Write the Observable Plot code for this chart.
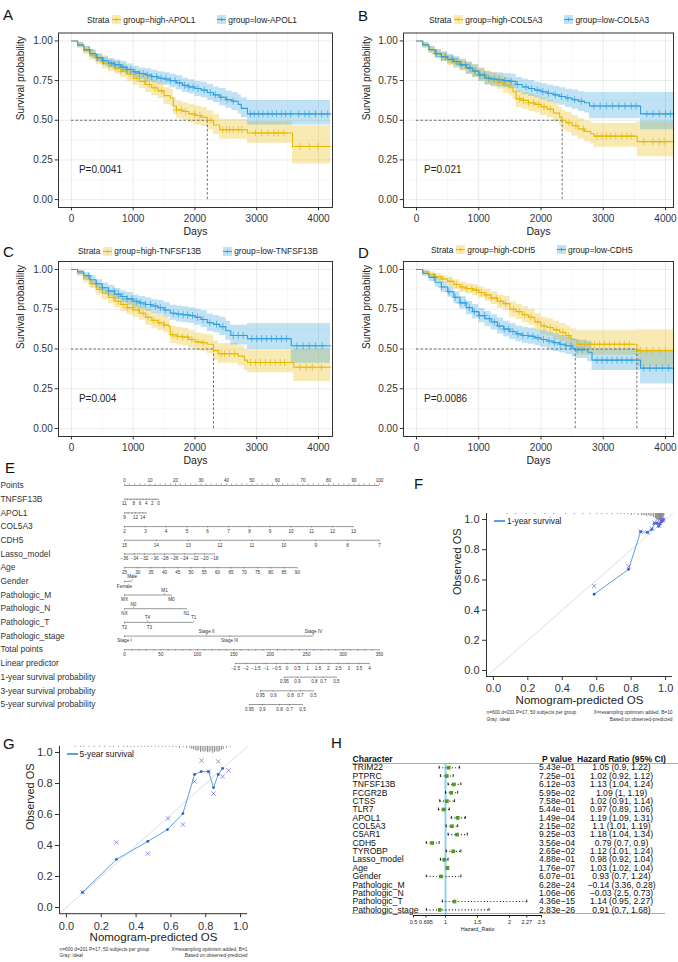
<!DOCTYPE html>
<html><head><meta charset="utf-8">
<script src="https://cdn.jsdelivr.net/npm/d3@7"></script>
<script src="https://cdn.jsdelivr.net/npm/@observablehq/plot@0.6"></script>
<style>
body{margin:0;background:#fff;}
#root{position:relative;width:678px;height:962px;overflow:hidden;background:#fff;font-family:"Liberation Sans",Arial,Helvetica,sans-serif;color:#222;}
</style></head>
<body><div id="root"></div>
<script>
// ---------------- DATA ----------------
const groupColors = ["#E7B800", "#2E9FDF"];
const kmTimeTicks = [0, 1000, 2000, 3000, 4000];
const kmTimeMinor = [500, 1500, 2500, 3500];
const kmSurvTicks = [0, 0.25, 0.5, 0.75, 1];
const kmSurvMinor = [0.125, 0.375, 0.625, 0.875];
const kmSurvDomain = [-0.05, 1.05];
const kmDomainAC = [-210, 4227];
const kmDomainBD = [-209, 4129];
const pvalAt = [120, 0.19];

// [days, survival, lower, upper]
const aHigh = [[0,1,1,1],[100,0.97,0.95,0.99],[200,0.94,0.915,0.965],[300,0.91,0.88,0.94],[400,0.885,0.85,0.915],[500,0.86,0.825,0.895],[600,0.845,0.805,0.88],[700,0.83,0.79,0.87],[800,0.81,0.77,0.85],[900,0.79,0.745,0.83],[1000,0.765,0.72,0.81],[1100,0.745,0.70,0.79],[1200,0.725,0.675,0.77],[1300,0.705,0.655,0.755],[1400,0.685,0.635,0.735],[1500,0.655,0.60,0.705],[1600,0.64,0.585,0.695],[1650,0.59,0.535,0.645],[1700,0.565,0.51,0.62],[1800,0.555,0.50,0.61],[1900,0.54,0.485,0.60],[2000,0.53,0.47,0.59],[2100,0.52,0.46,0.58],[2200,0.50,0.44,0.56],[2300,0.47,0.41,0.535],[2400,0.44,0.38,0.505],[2850,0.42,0.355,0.49],[3580,0.335,0.225,0.465],[4195,0.335,0.225,0.465]];
const aLow = [[0,1,1,1],[100,0.975,0.96,0.99],[200,0.945,0.925,0.965],[300,0.92,0.895,0.945],[400,0.895,0.865,0.92],[500,0.875,0.845,0.905],[600,0.86,0.83,0.89],[700,0.85,0.815,0.88],[800,0.835,0.80,0.87],[900,0.82,0.785,0.855],[1000,0.805,0.77,0.84],[1100,0.795,0.755,0.83],[1200,0.785,0.745,0.825],[1300,0.775,0.735,0.815],[1400,0.765,0.725,0.805],[1500,0.76,0.72,0.80],[1600,0.75,0.705,0.79],[1700,0.735,0.69,0.78],[1800,0.72,0.675,0.765],[1900,0.71,0.665,0.755],[2000,0.70,0.65,0.745],[2100,0.69,0.64,0.74],[2200,0.675,0.625,0.725],[2300,0.66,0.61,0.71],[2400,0.645,0.59,0.70],[2500,0.63,0.575,0.685],[2600,0.62,0.56,0.675],[2700,0.60,0.54,0.66],[2750,0.575,0.515,0.64],[2850,0.54,0.47,0.625],[4195,0.54,0.47,0.625]];
const bHigh = [[0,1,1,1],[100,0.975,0.955,0.99],[200,0.945,0.92,0.965],[300,0.92,0.89,0.945],[400,0.90,0.87,0.93],[500,0.88,0.845,0.91],[600,0.86,0.825,0.895],[700,0.845,0.81,0.88],[800,0.83,0.79,0.865],[900,0.81,0.77,0.85],[1000,0.79,0.745,0.83],[1100,0.77,0.725,0.81],[1200,0.755,0.71,0.80],[1300,0.74,0.695,0.785],[1400,0.72,0.67,0.77],[1500,0.705,0.655,0.755],[1550,0.68,0.63,0.73],[1600,0.635,0.58,0.685],[1700,0.625,0.57,0.675],[1800,0.61,0.555,0.665],[1900,0.60,0.545,0.655],[2000,0.585,0.53,0.64],[2100,0.57,0.515,0.625],[2200,0.545,0.49,0.605],[2300,0.52,0.46,0.58],[2340,0.50,0.44,0.56],[2400,0.485,0.425,0.55],[2500,0.465,0.40,0.53],[2600,0.445,0.38,0.51],[2700,0.43,0.365,0.495],[2800,0.415,0.35,0.485],[2850,0.40,0.33,0.48],[3545,0.365,0.27,0.49],[4134,0.365,0.27,0.49]];
const bLow = [[0,1,1,1],[100,0.975,0.955,0.99],[200,0.945,0.925,0.965],[300,0.92,0.895,0.945],[400,0.90,0.87,0.93],[500,0.885,0.855,0.915],[600,0.87,0.835,0.90],[700,0.85,0.815,0.885],[800,0.83,0.79,0.865],[900,0.81,0.77,0.85],[1000,0.785,0.745,0.825],[1100,0.765,0.72,0.805],[1200,0.76,0.715,0.80],[1300,0.755,0.71,0.80],[1400,0.75,0.705,0.795],[1500,0.745,0.70,0.79],[1600,0.725,0.675,0.77],[1700,0.71,0.66,0.76],[1800,0.70,0.65,0.75],[1900,0.69,0.64,0.74],[2000,0.68,0.63,0.73],[2100,0.67,0.615,0.72],[2200,0.66,0.605,0.715],[2300,0.65,0.595,0.705],[2400,0.64,0.58,0.695],[2500,0.63,0.57,0.69],[2600,0.62,0.555,0.68],[2700,0.61,0.545,0.675],[2780,0.59,0.51,0.675],[3600,0.54,0.44,0.675],[4134,0.54,0.44,0.675]];
const cHigh = [[0,1,1,1],[100,0.975,0.955,0.99],[200,0.94,0.915,0.965],[300,0.91,0.88,0.935],[400,0.875,0.84,0.905],[500,0.85,0.81,0.885],[600,0.825,0.785,0.86],[700,0.80,0.76,0.84],[800,0.78,0.735,0.82],[900,0.76,0.715,0.805],[1000,0.745,0.70,0.79],[1100,0.725,0.68,0.77],[1200,0.70,0.65,0.75],[1300,0.68,0.63,0.73],[1400,0.665,0.615,0.715],[1500,0.65,0.60,0.70],[1580,0.64,0.585,0.69],[1600,0.59,0.535,0.645],[1700,0.58,0.525,0.635],[1800,0.575,0.52,0.63],[1900,0.56,0.505,0.615],[2000,0.545,0.49,0.60],[2100,0.54,0.485,0.595],[2200,0.53,0.47,0.59],[2300,0.49,0.43,0.55],[2380,0.47,0.41,0.535],[2700,0.455,0.395,0.52],[2800,0.43,0.365,0.495],[2850,0.415,0.35,0.49],[3600,0.385,0.295,0.50],[4195,0.385,0.295,0.50]];
const cLow = [[0,1,1,1],[100,0.985,0.97,0.995],[200,0.96,0.94,0.98],[300,0.935,0.91,0.96],[400,0.91,0.88,0.935],[500,0.885,0.85,0.915],[600,0.865,0.83,0.90],[700,0.845,0.81,0.88],[800,0.83,0.79,0.865],[900,0.815,0.775,0.855],[1000,0.80,0.76,0.84],[1100,0.79,0.75,0.83],[1200,0.78,0.735,0.82],[1300,0.77,0.725,0.81],[1400,0.76,0.715,0.805],[1500,0.745,0.70,0.79],[1600,0.725,0.68,0.775],[1700,0.72,0.67,0.77],[1800,0.715,0.665,0.765],[1900,0.71,0.66,0.76],[2000,0.70,0.65,0.75],[2100,0.685,0.635,0.74],[2200,0.665,0.61,0.72],[2300,0.655,0.60,0.71],[2400,0.64,0.585,0.70],[2500,0.615,0.555,0.675],[2580,0.585,0.525,0.65],[2850,0.565,0.495,0.66],[3560,0.52,0.41,0.66],[4195,0.52,0.41,0.66]];
const dHigh = [[0,1,1,1],[100,0.985,0.97,0.995],[200,0.97,0.95,0.985],[300,0.955,0.935,0.975],[400,0.94,0.915,0.96],[500,0.925,0.895,0.95],[600,0.905,0.875,0.935],[700,0.89,0.855,0.92],[800,0.88,0.845,0.91],[900,0.87,0.835,0.905],[1000,0.855,0.82,0.89],[1100,0.84,0.80,0.875],[1200,0.82,0.78,0.86],[1300,0.80,0.755,0.84],[1400,0.785,0.74,0.83],[1500,0.75,0.70,0.795],[1600,0.735,0.685,0.78],[1700,0.715,0.665,0.765],[1800,0.70,0.65,0.75],[1900,0.67,0.615,0.72],[2000,0.645,0.59,0.70],[2100,0.635,0.58,0.69],[2200,0.62,0.56,0.675],[2300,0.605,0.545,0.66],[2400,0.585,0.525,0.645],[2480,0.56,0.495,0.625],[2580,0.53,0.46,0.615],[3540,0.49,0.39,0.62],[4134,0.49,0.39,0.62]];
const dLow = [[0,1,1,1],[100,0.975,0.955,0.99],[200,0.95,0.925,0.97],[300,0.92,0.89,0.945],[400,0.89,0.855,0.92],[500,0.86,0.825,0.895],[600,0.825,0.785,0.86],[700,0.79,0.75,0.83],[800,0.76,0.715,0.80],[900,0.735,0.69,0.78],[1000,0.71,0.665,0.755],[1100,0.69,0.64,0.735],[1200,0.67,0.62,0.715],[1300,0.645,0.595,0.695],[1400,0.625,0.575,0.675],[1500,0.61,0.56,0.66],[1600,0.595,0.545,0.645],[1700,0.585,0.535,0.635],[1800,0.58,0.53,0.63],[1900,0.57,0.52,0.62],[2000,0.56,0.51,0.615],[2100,0.55,0.495,0.605],[2200,0.54,0.485,0.595],[2300,0.53,0.475,0.585],[2400,0.52,0.465,0.575],[2500,0.505,0.45,0.565],[2550,0.495,0.44,0.555],[2750,0.48,0.42,0.545],[2820,0.43,0.365,0.50],[3600,0.38,0.28,0.49],[4134,0.38,0.28,0.49]];

const aHighCensor = [350,480,610,720,800,880,950,1060,1180,1260,1350,1460,1700,1780,1850,1990,2080,2260,2450,2510,2560,2620,2700,2760,2980,3080,3180,3280,3350,3440,3700,3850,3990];
const aLowCensor = [290,420,520,640,700,770,830,900,960,1030,1100,1160,1230,1300,1380,1450,1530,1600,1680,1750,1830,1900,1970,2050,2150,2250,2330,2420,2520,2620,2900,2960,3030,3100,3180,3250,3320,3400,3470,3550,3680,3780,3850,3950,4050,4150];
const bHighCensor = [300,450,560,690,780,850,930,1010,1120,1200,1300,1380,1480,1650,1720,1800,1880,1960,2050,2150,2450,2560,2680,2900,2980,3050,3120,3200,3300,3380,3450,3650,3800,3900,3980];
const bLowCensor = [320,400,470,580,650,720,790,860,940,1020,1090,1160,1250,1330,1420,1520,1620,1760,1850,1940,2030,2120,2230,2330,2430,2540,2650,2850,2950,3050,3150,3250,3350,3450,3530,3700,3800,3900,4000,4080];
const cHighCensor = [330,460,590,680,760,840,910,990,1080,1160,1240,1330,1420,1500,1640,1720,1800,1880,1950,2050,2130,2420,2480,2560,2640,2900,2980,3060,3140,3220,3300,3380,3450,3700,3800,3900,4050];
const cLowCensor = [280,400,500,600,690,760,830,900,980,1050,1120,1200,1280,1360,1440,1520,1650,1730,1810,1880,1960,2040,2130,2240,2350,2450,2620,2700,2780,2920,3000,3080,3160,3240,3320,3400,3480,3650,3750,3850,3950,4060];
const dHighCensor = [300,420,540,640,730,810,890,960,1040,1120,1200,1280,1350,1430,1560,1650,1740,1840,1950,2050,2150,2250,2350,2440,2620,2700,2780,2860,2940,3020,3100,3180,3260,3340,3420,3600,3700,3800,3900,4000];
const dLowCensor = [280,400,520,620,700,780,850,930,1010,1090,1170,1250,1330,1410,1480,1550,1630,1710,1790,1870,1950,2040,2130,2220,2310,2400,2480,2580,2660,2900,2980,3060,3140,3220,3300,3380,3460,3650,3750,3850,3950,4050];

const aMedian = [2200], bMedian = [2340], cMedian = [2300], dMedian = [2550, 3540];
const aStrata = ["group=high-APOL1", "group=low-APOL1"];
const bStrata = ["group=high-COL5A3", "group=low-COL5A3"];
const cStrata = ["group=high-TNFSF13B", "group=low-TNFSF13B"];
const dStrata = ["group=high-CDH5", "group=low-CDH5"];
const kmPvals = ["P=0.0041", "P=0.021", "P=0.004", "P=0.0086"];

// Nomogram: [label, position on the 0–100 Points scale, side]
const nomoRowNames = ["Points","TNFSF13B","APOL1","COL5A3","CDH5","Lasso_model","Age","Gender","Pathologic_M","Pathologic_N","Pathologic_T","Pathologic_stage","Total points","Linear predictor","1-year survival probability","3-year survival probability","5-year survival probability"];
const pointsTicks = [0,10,20,30,40,50,60,70,80,90,100];
const tnfsf13bAxis = [["11",0],["",1.2],["",2.4],["8",3.6],["",4.8],["6",6.1],["",7.3],["4",8.5],["",9.7],["2",10.9],["",12.1],["0",13.3]];
const apol1Axis = [["9",0],["",1.4],["",2.9],["12",4.3],["",5.8],["14",7.2],["",8.6]];
const col5a3Axis = [["2",0],["3",8.2],["4",16.3],["5",24.5],["6",32.6],["7",40.8],["8",49.0],["9",57.1],["10",65.3],["11",73.4],["12",81.6],["13",89.8]];
const cdh5Axis = [["15",0],["14",12.5],["13",25],["12",37.5],["11",50],["10",62.5],["9",75],["8",87.5],["7",100]];
const lassoAxis = [["−36",0],["−34",3.9],["−32",7.8],["−30",11.8],["−28",15.7],["−26",19.6],["−24",23.5],["−22",27.5],["−20",31.4],["−18",35.3]];
const ageAxis = [["25",0],["30",5.2],["35",10.4],["40",15.7],["45",20.9],["50",26.1],["55",31.3],["60",36.5],["65",41.8],["70",47.0],["75",52.2],["80",57.4],["85",62.6],["90",67.8]];
const genderAxis = [["Female",0,"b"],["Male",3.0,"a"]];
const pmAxis = [["MX",0,"b"],["M1",15.7,"a"],["M0",18.4,"b"]];
const pnAxis = [["NX",0,"b"],["N0",3.5,"a"],["N1",24.3,"b"]];
const ptAxis = [["T2",0,"b"],["T4",9.0,"a"],["T3",9.8,"b"],["T1",27.1,"a"]];
const stageAxis = [["Stage I",0,"b"],["Stage II",32.2,"a"],["Stage III",41.2,"b"],["Stage IV",74.1,"a"]];
const totalPtsAxis = [0,50,100,150,200,250,300,350];
const lpAxis = [["−2.5",43.5],["−2",47.6],["−1.5",51.6],["−1",55.6],["−0.5",59.7],["0",63.7],["0.5",67.8],["1",71.8],["1.5",75.9],["2",79.9],["2.5",83.9],["3",88.0],["3.5",92.0],["4",96.1]];
const surv1Axis = [["0.95",62.7],["0.9",67.8],["0.8",74.5],["0.7",78.0],["0.5",83.1]];
const surv3Axis = [["0.95",53.3],["0.9",58.4],["0.8",65.1],["0.7",69.0],["0.5",74.1]];
const surv5Axis = [["0.95",49.0],["0.9",54.1],["0.8",60.8],["0.7",64.7],["0.5",69.8]];

// Calibration: [predicted, observed]
const calDomain = [-0.04, 1.04];
const calTicks = [0, 0.2, 0.4, 0.6, 0.8, 1.0];
const calIdeal = [-0.04, 1.04];
const f1Dots = [[0.585,0.505],[0.785,0.67],[0.855,0.92],[0.895,0.915],[0.92,0.935],[0.935,0.975],[0.95,0.975],[0.96,0.955],[0.967,0.97],[0.974,0.985],[0.98,0.99],[0.987,1.0]];
const f1Cross = [[0.585,0.56],[0.785,0.69],[0.855,0.92],[0.895,0.915],[0.92,0.94],[0.935,0.98],[0.95,0.98],[0.96,0.96],[0.967,0.975],[0.974,0.99],[0.98,0.995],[0.987,1.0]];
const f1Rug = [[0.08,1],[0.13,1],[0.19,1],[0.24,1],[0.3,1],[0.35,1],[0.42,1],[0.47,1],[0.52,1],[0.56,1],[0.6,1],[0.63,1],[0.66,1],[0.69,1],[0.72,1],[0.74,1],[0.76,1],[0.78,1],[0.8,2],[0.82,1],[0.84,2],[0.86,2],[0.87,2],[0.88,2],[0.89,3],[0.9,2],[0.91,3],[0.92,3],[0.93,4],[0.94,5],[0.945,6],[0.95,7],[0.955,6],[0.96,8],[0.965,7],[0.97,8],[0.975,7],[0.98,6],[0.985,5],[0.99,3]];
const g5Dots = [[0.092,0.097],[0.287,0.31],[0.467,0.426],[0.58,0.503],[0.669,0.606],[0.736,0.858],[0.774,0.877],[0.816,0.877],[0.845,0.774],[0.872,0.858],[0.897,0.897]];
const g5Cross = [[0.092,0.1],[0.287,0.42],[0.467,0.348],[0.584,0.574],[0.669,0.535],[0.736,0.813],[0.776,0.948],[0.816,0.877],[0.845,0.735],[0.872,0.942],[0.897,0.845],[0.931,0.884]];
const g5Rug = [[0.05,1],[0.08,1],[0.1,1],[0.13,1],[0.16,1],[0.19,1],[0.22,1],[0.25,1],[0.27,1],[0.3,1],[0.33,1],[0.35,1],[0.37,1],[0.39,1],[0.41,1],[0.43,1],[0.45,1],[0.47,1],[0.49,1],[0.51,1],[0.53,1],[0.55,1],[0.57,1],[0.59,1],[0.61,1],[0.63,1],[0.65,2],[0.67,1],[0.69,2],[0.71,2],[0.72,3],[0.73,3],[0.74,4],[0.75,5],[0.76,4],[0.77,6],[0.78,5],[0.79,6],[0.8,5],[0.81,6],[0.82,6],[0.83,5],[0.84,7],[0.85,6],[0.86,5],[0.87,6],[0.88,5],[0.89,4],[0.9,3],[0.92,2],[0.94,1]];
const fCaption = ["n=600 d=201 P=17, 50 subjects per group", "X=resampling optimism added, B=10", "Gray: ideal", "Based on observed-predicted"];
const gCaption = ["n=600 d=201 P=17, 50 subjects per group", "X=resampling optimism added, B=1", "Gray: ideal", "Based on observed-predicted"];

// Forest table
const hHeaders = ["Character", "P value", "Hazard Ratio (95% CI)"];
const hChar = ["TRIM22","PTPRC","TNFSF13B","FCGR2B","CTSS","TLR7","APOL1","COL5A3","C5AR1","CDH5","TYROBP","Lasso_model","Age","Gender","Pathologic_M","Pathologic_N","Pathologic_T","Pathologic_stage"];
const hPval = ["5.43e−01","7.25e−01","6.12e−03","5.95e−02","7.58e−01","5.44e−01","1.49e−04","2.15e−02","9.25e−03","3.56e−04","2.65e−02","4.88e−01","1.76e−07","6.07e−01","6.28e−24","1.06e−06","4.36e−15","2.83e−26"];
const hHR = [1.05,1.02,1.13,1.09,1.02,0.97,1.19,1.1,1.18,0.79,1.12,0.98,1.03,0.93,-0.14,-0.03,1.14,0.91];
const hLo = [0.9,0.92,1.04,1,0.91,0.89,1.09,1.01,1.04,0.7,1.01,0.92,1.02,0.7,3.36,2.5,0.95,0.7];
const hHi = [1.22,1.12,1.24,1.19,1.14,1.06,1.31,1.19,1.34,0.9,1.24,1.04,1.04,1.24,0.28,0.73,2.27,1.68];
const hrTicks = [0.5, 0.695, 1, 1.5, 2, 2.27, 2.5];
const hrDomain = [0.5, 2.5];
const hXLabel = "Hazard_Ratio";

// ---------------- RENDER ----------------
const root = document.getElementById("root");
const FONT = "'Liberation Sans', Arial, Helvetica, sans-serif";
const plotStyle = {fontFamily: FONT, background: "transparent", overflow: "visible"};
function put(el, left, top) { el.style.position = "absolute"; el.style.left = left + "px"; el.style.top = top + "px"; root.appendChild(el); return el; }
function div(html, css) { const d = document.createElement("div"); d.innerHTML = html; d.style.cssText = "position:absolute;" + css; root.appendChild(d); return d; }
function survAt(rows, t) { let v = rows[0][1]; for (const r of rows) { if (r[0] <= t) v = r[1]; else break; } return v; }

function kmPanel(p) {
  const marks = [
    Plot.ruleX(kmTimeMinor, {stroke: "#f1f1f1", strokeWidth: 0.6}),
    Plot.ruleY(kmSurvMinor, {stroke: "#f1f1f1", strokeWidth: 0.6}),
    Plot.ruleX(kmTimeTicks, {stroke: "#e3e3e3", strokeWidth: 0.7}),
    Plot.ruleY(kmSurvTicks, {stroke: "#e3e3e3", strokeWidth: 0.7})
  ];
  p.curves.forEach((c, i) => marks.push(Plot.areaY(c, {x: d => d[0], y1: d => d[2], y2: d => d[3], curve: "step-after", fill: groupColors[i], fillOpacity: 0.3})));
  marks.push(Plot.ruleY([0.5], {x1: 0, x2: d3.max(p.medians), stroke: "#333", strokeWidth: 0.7, strokeDasharray: "2.5,2"}));
  marks.push(Plot.ruleX(p.medians, {y1: 0, y2: 0.5, stroke: "#333", strokeWidth: 0.7, strokeDasharray: "2.5,2"}));
  p.curves.forEach((c, i) => {
    marks.push(Plot.line(c, {x: d => d[0], y: d => d[1], curve: "step-after", stroke: groupColors[i], strokeWidth: 1.1}));
    marks.push(Plot.dot(p.censor[i], {x: t => t, y: t => survAt(c, t), symbol: "plus", r: 2.4, stroke: groupColors[i], strokeWidth: 0.7}));
  });
  marks.push(Plot.text([p.pval], {x: pvalAt[0], y: pvalAt[1], text: d => d, textAnchor: "start", fontSize: 10, fill: "#222"}));
  marks.push(Plot.frame({stroke: "#333", strokeWidth: 1}));
  marks.push(Plot.axisX(kmTimeTicks, {tickSize: 3.3, tickPadding: 4.5, fontSize: 10, fill: "#333", stroke: "#333", tickFormat: d => String(d), label: null}));
  marks.push(Plot.axisY(kmSurvTicks, {tickSize: 3.3, tickPadding: 2.5, fontSize: 10, fill: "#333", stroke: "#333", tickFormat: d3.format(".2f"), label: null}));
  marks.push(Plot.text(["Days"], {frameAnchor: "bottom", dy: 27.5, fontSize: 10.5, fill: "#222", text: d => d}));
  marks.push(Plot.text(["Survival probability"], {frameAnchor: "left", dx: p.titleDx, rotate: -90, fontSize: 10, fill: "#222", text: d => d}));
  const svg = Plot.plot({width: p.width, height: p.height, marginLeft: p.ml, marginRight: p.mr, marginTop: p.mt, marginBottom: p.mb,
    x: {domain: p.xDomain}, y: {domain: kmSurvDomain}, style: plotStyle, marks});
  put(svg, p.left, p.top);
}

function swatch(color) {
  return `<svg width="9" height="9" style="display:block"><rect width="9" height="9" fill="${color}" fill-opacity="0.3"/><line x1="0" x2="9" y1="4.5" y2="4.5" stroke="${color}" stroke-width="1.1"/><line x1="4.5" x2="4.5" y1="2.7" y2="6.3" stroke="${color}" stroke-width="0.8"/></svg>`;
}
function kmLegend(left, cy, labels) {
  const html = `<span>Strata</span>` + labels.map((l, i) => `<span style="display:flex;align-items:center;gap:2px;margin-left:${i ? 22 : 3}px">${swatch(groupColors[i])}<span>${l}</span></span>`).join("");
  div(html, `left:${left}px;top:${cy - 6}px;height:12px;display:flex;align-items:center;font-size:8.4px;color:#222;white-space:nowrap;`);
}

kmPanel({curves: [aHigh, aLow], censor: [aHighCensor, aLowCensor], medians: aMedian, pval: kmPvals[0], xDomain: kmDomainAC, left: 0, top: 28, width: 340, height: 217, ml: 58, mr: 8, mt: 4.5, mb: 38, titleDx: -38});
kmPanel({curves: [bHigh, bLow], censor: [bHighCensor, bLowCensor], medians: bMedian, pval: kmPvals[1], xDomain: kmDomainBD, left: 340, top: 28, width: 338, height: 217, ml: 63, mr: 5, mt: 4.5, mb: 38, titleDx: -37});
kmPanel({curves: [cHigh, cLow], censor: [cHighCensor, cLowCensor], medians: cMedian, pval: kmPvals[2], xDomain: kmDomainAC, left: 0, top: 257, width: 340, height: 217, ml: 58, mr: 8, mt: 4, mb: 38, titleDx: -38});
kmPanel({curves: [dHigh, dLow], censor: [dHighCensor, dLowCensor], medians: dMedian, pval: kmPvals[3], xDomain: kmDomainBD, left: 340, top: 257, width: 338, height: 217, ml: 63, mr: 5, mt: 4, mb: 38, titleDx: -37});
kmLegend(87, 19.5, aStrata);
kmLegend(429, 19.5, bStrata);
kmLegend(78, 251, cStrata);
kmLegend(431, 249.5, dStrata);

// ---- Nomogram (E)
const nomoTicks = [];
const addRow = (row, arr, defSide) => arr.forEach(([label, pos, side]) => nomoTicks.push({row, label, pos, side: side || defSide}));
pointsTicks.forEach(v => nomoTicks.push({row: 0, label: String(v), pos: v, side: "a"}));
d3.range(0, 101, 2).filter(v => v % 10).forEach(v => nomoTicks.push({row: 0, label: "", pos: v, side: "a"}));
addRow(1, tnfsf13bAxis, "b"); addRow(2, apol1Axis, "b"); addRow(3, col5a3Axis, "b"); addRow(4, cdh5Axis, "b");
addRow(5, lassoAxis, "b"); addRow(6, ageAxis, "b"); addRow(7, genderAxis, "b"); addRow(8, pmAxis, "b");
addRow(9, pnAxis, "b"); addRow(10, ptAxis, "b"); addRow(11, stageAxis, "b");
totalPtsAxis.forEach(v => nomoTicks.push({row: 12, label: String(v), pos: v * 100 / 350, side: "b"}));
d3.range(0, 351, 10).filter(v => v % 50).forEach(v => nomoTicks.push({row: 12, label: "", pos: v * 100 / 350, side: "b"}));
addRow(13, lpAxis, "b"); addRow(14, surv1Axis, "b"); addRow(15, surv3Axis, "b"); addRow(16, surv5Axis, "b");
const nomoLines = d3.rollups(nomoTicks, v => [d3.min(v, d => d.pos), d3.max(v, d => d.pos)], d => d.row).map(([row, [x1, x2]]) => ({row, x1, x2}));

const nomo = Plot.plot({width: 400, height: 250, marginLeft: 124, marginRight: 21, marginTop: 15, marginBottom: 16,
  x: {domain: [0, 100], axis: null}, y: {domain: [0, 16], reverse: true, axis: null}, style: plotStyle,
  marks: [
    Plot.ruleY(nomoLines, {y: "row", x1: "x1", x2: "x2", stroke: "#555", strokeWidth: 0.6}),
    Plot.ruleX(nomoTicks, {x: "pos", y1: "row", y2: d => d.row + (d.side === "a" ? -0.11 : 0.11), stroke: "#555", strokeWidth: 0.5}),
    Plot.text(nomoTicks.filter(d => d.label && d.side === "a"), {x: "pos", y: "row", text: "label", dy: -4.6, fontSize: 4.6, fill: "#333"}),
    Plot.text(nomoTicks.filter(d => d.label && d.side === "b"), {x: "pos", y: "row", text: "label", dy: 4.8, fontSize: 4.6, fill: "#333"}),
    Plot.text(nomoRowNames, {y: (d, i) => i, text: d => d, frameAnchor: "left", dx: -124, textAnchor: "start", fontSize: 8.4, fill: "#333"})
  ]});
put(nomo, 0, 470);

// ---- Calibration (F, G)
function calPanel(p) {
  const xy = {x: d => d[0], y: d => d[1]};
  const capStyle = {fontSize: 4.8, fill: "#333", text: d => d};
  const marks = [
    Plot.line(calIdeal, {x: d => d, y: d => d, stroke: "#dddddd", strokeWidth: 1}),
    Plot.ruleX(p.rug, {x: d => d[0], y1: calDomain[1], y2: d => calDomain[1] - d[1] * 0.0068, stroke: "#444", strokeWidth: 0.6}),
    Plot.line(p.dots, {...xy, stroke: "#5d9ee0", strokeWidth: 1}),
    Plot.dot(p.dots, {...xy, r: 1.4, fill: "#2a5fc4"}),
    Plot.dot(p.crosses, {...xy, symbol: "times", r: 2.1, stroke: "#6a5cf0", strokeWidth: 0.7}),
    Plot.ruleX([calDomain[0]], {stroke: "#333", strokeWidth: 1}),
    Plot.ruleY([calDomain[0]], {stroke: "#333", strokeWidth: 1}),
    Plot.axisX(calTicks, {tickSize: 4, tickPadding: 4, tickFormat: d3.format(".1f"), fontSize: 11, fill: "#333", stroke: "#333", label: null}),
    Plot.axisY(calTicks, {tickSize: 4, tickPadding: 3, tickFormat: d3.format(".1f"), fontSize: 11, fill: "#333", stroke: "#333", label: null}),
    Plot.text(["Nomogram-predicted OS"], {frameAnchor: "bottom", dy: 27, fontSize: 11.5, fill: "#222", text: d => d}),
    Plot.text(["Observed OS"], {frameAnchor: "left", dx: -29, rotate: -90, fontSize: 11, fill: "#222", text: d => d}),
    Plot.text([p.cap[0]], {frameAnchor: "bottom-left", dy: p.capDy[0], textAnchor: "start", ...capStyle}),
    Plot.text([p.cap[1]], {frameAnchor: "bottom-right", dy: p.capDy[0], textAnchor: "end", ...capStyle}),
    Plot.text([p.cap[2]], {frameAnchor: "bottom-left", dy: p.capDy[1], textAnchor: "start", ...capStyle}),
    Plot.text([p.cap[3]], {frameAnchor: "bottom-right", dy: p.capDy[1], textAnchor: "end", ...capStyle})
  ];
  const svg = Plot.plot({width: p.width, height: p.height, marginLeft: p.ml, marginRight: p.mr, marginTop: p.mt, marginBottom: p.mb,
    x: {domain: calDomain}, y: {domain: calDomain}, style: plotStyle, marks});
  put(svg, p.left, p.top);
  div(`<span style="display:inline-block;width:11px;height:2px;background:#5d9ee0;margin-right:2px"></span><span>${p.legend}</span>`,
    `left:${p.legendAt[0]}px;top:${p.legendAt[1] - 6}px;height:12px;display:flex;align-items:center;font-size:8.4px;color:#222;white-space:nowrap;`);
}
calPanel({dots: f1Dots, crosses: f1Cross, rug: f1Rug, cap: fCaption, capDy: [37, 44], legend: "1-year survival", legendAt: [494, 520.7],
  left: 420, top: 500, width: 258, height: 228, ml: 66, mr: 6, mt: 13, mb: 52});
calPanel({dots: g5Dots, crosses: g5Cross, rug: g5Rug, cap: gCaption, capDy: [36.8, 43.5], legend: "5-year survival", legendAt: [66.5, 754],
  left: 0, top: 735, width: 260, height: 227, ml: 59, mr: 13, mt: 10.8, mb: 48.8});

// ---- Forest (H)
const fmtNum = v => String(v).replace("-", "−");
const forest = hChar.map((name, i) => ({i, name, p: hPval[i], hr: hHR[i], lo: hLo[i], hi: hHi[i], txt: `${fmtNum(hHR[i])} (${hLo[i]}, ${hHi[i]})`}));
const drawn = forest.filter(d => d.hr > 0);
const tStyle = {fontSize: 8.6, fill: "#111"};
const hStyle = {fontSize: 8.6, fill: "#111", fontWeight: "bold", y: -1, text: d => d};
const forestSvg = Plot.plot({width: 338, height: 200, marginLeft: 73, marginRight: 137, marginTop: 18, marginBottom: 30,
  x: {domain: hrDomain}, y: {domain: [-0.5, 17.67], reverse: true, axis: null}, style: plotStyle,
  marks: [
    Plot.ruleX([1], {stroke: "#8ed1e8", strokeWidth: 2}),
    Plot.ruleY([-0.5], {stroke: "#d38fd3", strokeWidth: 1.2, insetLeft: -61, insetRight: -137}),
    Plot.ruleY([17.43], {stroke: "#d38fd3", strokeWidth: 1.2, insetLeft: -61, insetRight: -124}),
    Plot.link(drawn, {x1: "lo", x2: "hi", y1: "i", y2: "i", stroke: "#222", strokeWidth: 1.1, strokeDasharray: "1,2.2"}),
    Plot.ruleX(drawn, {x: "lo", y1: d => d.i - 0.17, y2: d => d.i + 0.17, stroke: "#222", strokeWidth: 1}),
    Plot.ruleX(drawn, {x: "hi", y1: d => d.i - 0.17, y2: d => d.i + 0.17, stroke: "#222", strokeWidth: 1}),
    Plot.dot(drawn, {x: "hr", y: "i", symbol: "square", r: 2.1, fill: "#4e9a22"}),
    Plot.text(forest, {y: "i", text: "name", frameAnchor: "left", dx: -61, textAnchor: "start", ...tStyle}),
    Plot.text(forest, {y: "i", text: "p", frameAnchor: "right", dx: 15.5, textAnchor: "middle", ...tStyle}),
    Plot.text(forest, {y: "i", text: "txt", frameAnchor: "right", dx: 80, textAnchor: "middle", ...tStyle}),
    Plot.text([hHeaders[0]], {frameAnchor: "left", dx: -61, textAnchor: "start", ...hStyle}),
    Plot.text([hHeaders[1]], {frameAnchor: "right", dx: 15.5, textAnchor: "middle", ...hStyle}),
    Plot.text([hHeaders[2]], {frameAnchor: "right", dx: 80, textAnchor: "middle", ...hStyle}),
    Plot.ruleY([17.67], {stroke: "#111", strokeWidth: 1.2}),
    Plot.axisX(hrTicks, {tickSize: 2.5, tickPadding: 2, fontSize: 5.5, tickFormat: d => String(d), label: null, fill: "#222", stroke: "#222"}),
    Plot.text([hXLabel], {frameAnchor: "bottom", dy: 15, fontSize: 5.5, fill: "#222", text: d => d})
  ]});
put(forestSvg, 340, 745);

// ---- Panel letters
const letters = [["A", 3, 7.3], ["B", 358, 8], ["C", 3, 244.3], ["D", 358, 244.5], ["E", 5, 459.5], ["F", 414, 476.3], ["G", 3, 736.3], ["H", 331, 735.3]];
letters.forEach(([t, x, y]) => div(t, `left:${x}px;top:${y}px;font-size:15px;line-height:15px;color:#111;`));
</script></body></html>
